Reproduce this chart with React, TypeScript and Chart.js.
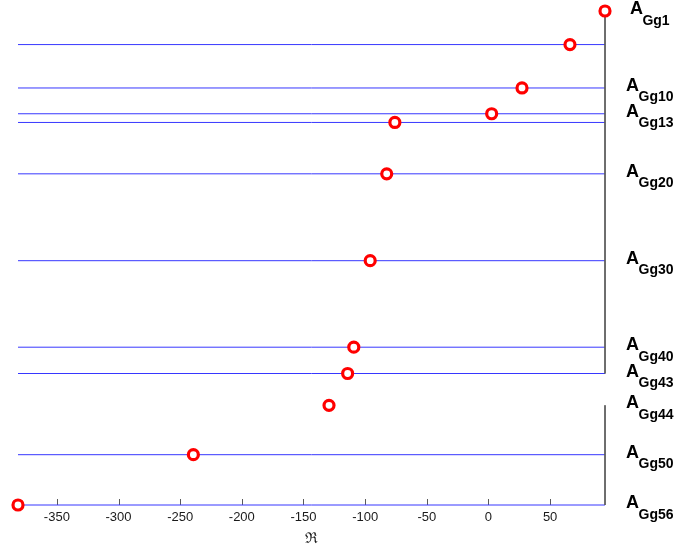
import { useEffect, useRef } from "react";
import { Chart, registerables } from "chart.js";

Chart.register(...registerables);

// Mode level (vertical position) and real part of each eigenvalue
const modeLevels = [1, 4.74, 9.57, 12.44, 13.41, 19.13, 28.8, 38.43, 41.36, 44.9, 50.4, 56];
const realParts = [94.5, 66.1, 27.2, 2.6, -75.9, -82.5, -95.9, -109.2, -114.2, -129.3, -239.3, -381.5];

// Levels that carry a horizontal guide line
const guideLevels = [4.74, 9.57, 12.44, 13.41, 19.13, 28.8, 38.43, 41.36, 50.4, 56];

// Right-hand spine segments (level ranges)
const spineSegments: [number, number][] = [
  [1, 41.36],
  [44.9, 56],
];

// Mode names printed to the right (subscript part) and their levels
const modeNames = ["Gg1", "Gg10", "Gg13", "Gg20", "Gg30", "Gg40", "Gg43", "Gg44", "Gg50", "Gg56"];
const nameLevels = [1, 9.57, 12.44, 19.13, 28.8, 38.43, 41.36, 44.9, 50.4, 56];

// Real-axis tick values
const realTicks = [-350, -300, -250, -200, -150, -100, -50, 0, 50];

const xMin = Math.min(...realParts);
const xMax = Math.max(...realParts);

const SANS = "'Liberation Sans', Arial, Helvetica, sans-serif";

const sideLabels = {
  id: "sideLabels",
  beforeDatasetsDraw(chart: any) {
    const { ctx, chartArea, scales } = chart;
    const xs = scales.x;
    ctx.save();
    ctx.strokeStyle = "#5a5a5a";
    ctx.lineWidth = 1;
    xs.ticks.forEach((t: any) => {
      const px = Math.round(xs.getPixelForValue(t.value)) + 0.5;
      ctx.beginPath();
      ctx.moveTo(px, chartArea.bottom);
      ctx.lineTo(px, chartArea.bottom - 6);
      ctx.stroke();
    });
    ctx.restore();
  },
  afterDraw(chart: any) {
    const { ctx, chartArea, scales } = chart;
    const ys = scales.y;
    ctx.save();
    ctx.fillStyle = "#000";
    ctx.textAlign = "left";
    ctx.textBaseline = "alphabetic";
    const bigFont = `bold 18px ${SANS}`;
    const subFont = `bold 14px ${SANS}`;
    modeNames.forEach((name, i) => {
      const py = ys.getPixelForValue(nameLevels[i]);
      ctx.font = bigFont;
      const wA = ctx.measureText("A").width;
      ctx.font = subFont;
      const wS = ctx.measureText(name).width;
      const left = chartArea.right + 45 - (wA + wS) / 2;
      ctx.font = bigFont;
      ctx.fillText("A", left, py + 3);
      ctx.font = subFont;
      ctx.fillText(name, left + wA - 0.5, py + 13.5);
    });
    ctx.restore();
  },
};

export default function App() {
  const canvasRef = useRef<HTMLCanvasElement | null>(null);

  useEffect(() => {
    document.body.style.margin = "0";
    const canvas = canvasRef.current;
    if (!canvas) return;

    const guideSets = guideLevels.map((lv) => ({
      type: "scatter" as const,
      data: [
        { x: xMin, y: lv },
        { x: xMax, y: lv },
      ],
      showLine: true,
      borderColor: "rgb(55,55,255)",
      borderWidth: 1,
      pointRadius: 0,
      clip: false as const,
      order: 2,
    }));

    const spineSets = spineSegments.map(([a, b]) => ({
      type: "scatter" as const,
      data: [
        { x: xMax, y: a },
        { x: xMax, y: b },
      ],
      showLine: true,
      borderColor: "#5a5a5a",
      borderWidth: 1,
      pointRadius: 0,
      clip: false as const,
      order: 1,
    }));

    const pointSet = {
      type: "scatter" as const,
      data: realParts.map((x, i) => ({ x, y: modeLevels[i] })),
      showLine: false,
      pointRadius: 5,
      pointBorderWidth: 3.2,
      pointBorderColor: "#ff0000",
      pointBackgroundColor: "#ffffff",
      clip: false as const,
      order: 0,
    };

    const chart = new Chart(canvas, {
      type: "scatter",
      data: { datasets: [pointSet, ...spineSets, ...guideSets] as any },
      options: {
        animation: false,
        responsive: false,
        devicePixelRatio: 1,
        events: [],
        layout: { padding: { left: 18, right: 72, top: 11, bottom: 0 } },
        plugins: { legend: { display: false }, tooltip: { enabled: false } },
        scales: {
          x: {
            type: "linear",
            min: xMin,
            max: xMax,
            grid: { display: false, drawTicks: false },
            border: { display: false },
            afterBuildTicks: (s: any) => {
              s.ticks = realTicks.map((v) => ({ value: v }));
            },
            afterFit: (s: any) => {
              s.height = 43;
            },
            ticks: {
              color: "#1a1a1a",
              font: { family: SANS, size: 13 },
              padding: 5,
              maxRotation: 0,
              autoSkip: false,
            },
            title: {
              display: true,
              text: "ℜ",
              color: "#1a1a1a",
              font: { family: "'DejaVu Serif', serif", size: 15 },
              padding: 0,
            },
          },
          y: {
            type: "linear",
            display: false,
            reverse: true,
            min: modeLevels[0],
            max: modeLevels[modeLevels.length - 1],
          },
        },
      },
      plugins: [sideLabels],
    });

    return () => chart.destroy();
  }, []);

  return (
    <div style={{ width: 677, height: 548, background: "#fff" }}>
      <canvas ref={canvasRef} width={677} height={548} style={{ display: "block" }} />
    </div>
  );
}
